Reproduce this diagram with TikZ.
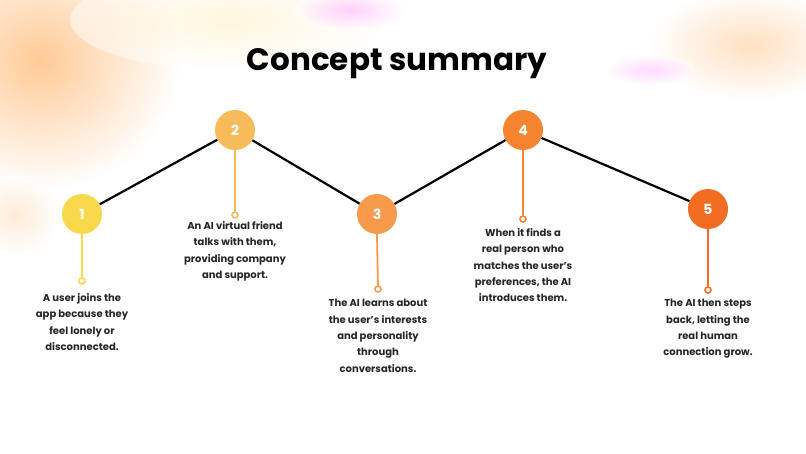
\documentclass[tikz,border=0pt]{standalone}
\usepackage{fontspec}
\setmainfont{Poppins}
\definecolor{c1}{HTML}{F9D94C}
\definecolor{c2}{HTML}{F8BB5A}
\definecolor{c3}{HTML}{F89A4C}
\definecolor{c4}{HTML}{F6832F}
\definecolor{c5}{HTML}{F26C22}
\begin{document}
\begin{tikzpicture}[x=1pt,y=-1pt,
  stepnode/.style={circle,minimum size=40pt,inner sep=0pt,text=white,font=\fontsize{14}{14}\selectfont\bfseries},
  stem/.style={line width=1.8pt},
  dot/.style={circle,draw,line width=1.6pt,fill=white,minimum size=6pt,inner sep=0pt},
  desc/.style={align=center,anchor=north,font=\fontsize{10}{16.3}\selectfont\bfseries,text=black!85},
  link/.style={line width=2.2pt,black}]
\useasboundingbox (0,0) rectangle (806,453);
\fill[white] (0,0) rectangle (806,453);
% soft background blobs
\shade[inner color=orange!55,outer color=white,opacity=0.75] (40,60) ellipse (140 and 130);
\shade[inner color=yellow!50!orange!25,outer color=white,opacity=0.5] (230,20) ellipse (160 and 50);
\shade[inner color=magenta!30,outer color=white,opacity=0.6] (350,10) ellipse (55 and 20);
\shade[inner color=orange!40,outer color=white,opacity=0.6] (750,45) ellipse (100 and 55);
\shade[inner color=magenta!30,outer color=white,opacity=0.5] (650,70) ellipse (45 and 15);
\shade[inner color=orange!30,outer color=white,opacity=0.5] (15,215) ellipse (45 and 40);
\node[font=\fontsize{31}{31}\selectfont\bfseries] (title) at (397,64) {Concept summary};
\node[stepnode,fill=c1] (n1) at (82,214) {1};
\node[stepnode,fill=c2] (n2) at (235,130) {2};
\node[stepnode,fill=c3] (n3) at (377,214) {3};
\node[stepnode,fill=c4] (n4) at (523,130) {4};
\node[stepnode,fill=c5] (n5) at (708,209) {5};
\draw[link] (n1) -- (n2) -- (n3) -- (n4) -- (n5);
\node[dot,draw=c1] (d1) at (82,281) {};
\node[dot,draw=c2] (d2) at (235,215) {};
\node[dot,draw=c3] (d3) at (378,289) {};
\node[dot,draw=c4] (d4) at (523,219) {};
\node[dot,draw=c5] (d5) at (708,290) {};
\draw[stem,c1] (n1) -- (d1);
\draw[stem,c2] (n2) -- (d2);
\draw[stem,c3] (n3.south) -- (d3);
\draw[stem,c4] (n4) -- (d4);
\draw[stem,c5] (n5) -- (d5);
\node[desc] (t1) at (82,290) {A user joins the\\app because they\\feel lonely or\\disconnected.};
\node[desc] (t2) at (235,218) {An AI virtual friend\\talks with them,\\providing company\\and support.};
\node[desc] (t3) at (378,296) {The AI learns about\\the user’s interests\\and personality\\through\\conversations.};
\node[desc] (t4) at (523,225) {When it finds a\\real person who\\matches the user’s\\preferences, the AI\\introduces them.};
\node[desc] (t5) at (708,296) {The AI then steps\\back, letting the\\real human\\connection grow.};
\end{tikzpicture}
\end{document}
